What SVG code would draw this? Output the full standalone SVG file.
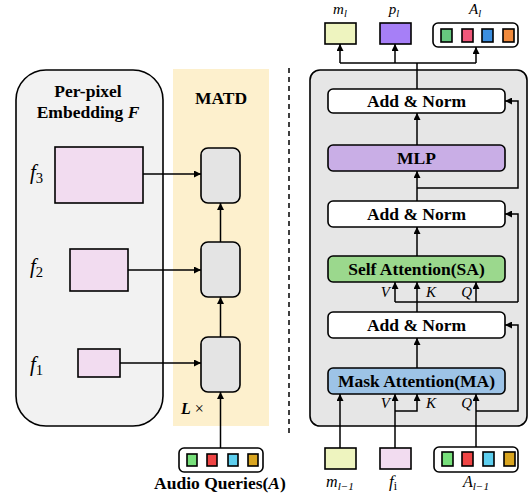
<svg xmlns="http://www.w3.org/2000/svg" width="532" height="500" viewBox="0 0 532 500">
  <style>
    .box { stroke: #000; stroke-width: 1.6; }
    .wire { fill: none; stroke: #000; stroke-width: 1.5; }
    .arrow { fill: none; stroke: #000; stroke-width: 1.5; marker-end: url(#head); }
    .title { font-family: "Liberation Serif", "Times New Roman", serif; font-weight: bold; font-size: 17.5px; text-anchor: middle; fill: #000; }
    .math { font-family: "Liberation Serif", "Times New Roman", serif; font-style: italic; fill: #000; }
    .sub { font-size: 70%; }
    .up { font-style: normal; }
  </style>
  <defs>
    <marker id="head" viewBox="0 0 10 10" refX="10" refY="5" markerWidth="7" markerHeight="7" markerUnits="userSpaceOnUse" orient="auto">
      <path d="M0,0 L10,5 L0,10 z" fill="#000"/>
    </marker>
  </defs>

  <!-- Left: per-pixel embeddings -->
  <g id="embedding">
    <rect class="box" x="16" y="70" width="147" height="356" rx="30" fill="#f2f2f2"/>
    <text class="title" x="88" y="97">Per-pixel</text>
    <text class="title" x="88" y="118">Embedding <tspan font-style="italic">F</tspan></text>
  </g>
  <g id="f3">
    <rect class="box" x="55" y="147" width="88" height="56" fill="#f2dcf0"/>
    <text class="math" x="30" y="179" font-size="21">f<tspan class="sub up" dy="4">3</tspan></text>
  </g>
  <g id="f2">
    <rect class="box" x="70" y="249" width="58" height="42" fill="#f2dcf0"/>
    <text class="math" x="30" y="273" font-size="21">f<tspan class="sub up" dy="4">2</tspan></text>
  </g>
  <g id="f1">
    <rect class="box" x="78" y="349" width="42" height="28" fill="#f2dcf0"/>
    <text class="math" x="30" y="371" font-size="21">f<tspan class="sub up" dy="4">1</tspan></text>
  </g>

  <!-- Middle: MATD stack -->
  <g id="matd">
    <rect x="173" y="69" width="96" height="357" fill="#fdf0cd"/>
    <text class="title" x="221" y="104" font-size="20">MATD</text>
    <text class="math" x="181" y="414" font-size="16"><tspan font-weight="bold">L</tspan><tspan class="up"> ×</tspan></text>
  </g>
  <g id="block3"><rect class="box" x="201" y="148" width="39" height="55" rx="7" fill="#e4e4e4"/></g>
  <g id="block2"><rect class="box" x="201" y="242" width="39" height="55" rx="7" fill="#e4e4e4"/></g>
  <g id="block1"><rect class="box" x="201" y="337" width="39" height="55" rx="7" fill="#e4e4e4"/></g>

  <g id="audio-queries">
    <rect class="box" x="179" y="448" width="84" height="24" rx="5" fill="#fff"/>
    <rect class="box" x="187" y="454" width="10" height="12" fill="#77e07b" stroke-width="1.2"/>
    <rect class="box" x="207" y="454" width="10" height="12" fill="#f04545" stroke-width="1.2"/>
    <rect class="box" x="228" y="454" width="10" height="12" fill="#5ecfef" stroke-width="1.2"/>
    <rect class="box" x="248" y="454" width="10" height="12" fill="#d9a520" stroke-width="1.2"/>
    <text class="title" x="220" y="489" font-size="14.5">Audio Queries(<tspan font-style="italic">A</tspan>)</text>
  </g>

  <!-- Divider -->
  <line x1="289" y1="68" x2="289" y2="433" stroke="#000" stroke-width="1.5" stroke-dasharray="5,4"/>

  <!-- Right: decoder layer -->
  <g id="layer">
    <rect class="box" x="310" y="70" width="217" height="356" rx="10" fill="#e6e6e6"/>
  </g>
  <g id="add-norm-1">
    <rect class="box" x="328" y="89" width="177" height="24" rx="5" fill="#fff"/>
    <text class="title" x="416.5" y="107">Add &amp; Norm</text>
  </g>
  <g id="mlp">
    <rect class="box" x="328" y="145" width="177" height="26" rx="5" fill="#c9aee6"/>
    <text class="title" x="416.5" y="164">MLP</text>
  </g>
  <g id="add-norm-2">
    <rect class="box" x="328" y="201" width="177" height="26" rx="5" fill="#fff"/>
    <text class="title" x="416.5" y="220">Add &amp; Norm</text>
  </g>
  <g id="self-attention">
    <rect class="box" x="328" y="256" width="177" height="26" rx="5" fill="#9bd88d"/>
    <text class="title" x="416.5" y="275">Self Attention(SA)</text>
  </g>
  <g id="add-norm-3">
    <rect class="box" x="328" y="312" width="177" height="26" rx="5" fill="#fff"/>
    <text class="title" x="416.5" y="331">Add &amp; Norm</text>
  </g>
  <g id="mask-attention">
    <rect class="box" x="328" y="368" width="177" height="26" rx="5" fill="#9dc3e6"/>
    <text class="title" x="416.5" y="387">Mask Attention(MA)</text>
  </g>

  <!-- Outputs -->
  <g id="m-l">
    <rect class="box" x="325" y="23" width="31" height="21" fill="#eef4bf"/>
    <text class="math" x="340" y="14" font-size="15" text-anchor="middle">m<tspan class="sub" dy="3">l</tspan></text>
  </g>
  <g id="p-l">
    <rect class="box" x="380" y="23" width="31" height="21" fill="#a67ff7"/>
    <text class="math" x="394" y="14" font-size="15" text-anchor="middle">p<tspan class="sub" dy="3">l</tspan></text>
  </g>
  <g id="A-l">
    <rect class="box" x="433" y="23" width="85" height="24" rx="5" fill="#fff"/>
    <rect class="box" x="441" y="29" width="11" height="13" fill="#66c97f" stroke-width="1.2"/>
    <rect class="box" x="462" y="29" width="11" height="13" fill="#f0587a" stroke-width="1.2"/>
    <rect class="box" x="482" y="29" width="11" height="13" fill="#3c8fe0" stroke-width="1.2"/>
    <rect class="box" x="503" y="29" width="11" height="13" fill="#f08a3c" stroke-width="1.2"/>
    <text class="math" x="475" y="14" font-size="15" text-anchor="middle">A<tspan class="sub" dy="3">l</tspan></text>
  </g>

  <!-- Inputs -->
  <g id="m-prev">
    <rect class="box" x="325" y="448" width="31" height="21" fill="#eef4bf"/>
    <text class="math" x="340" y="487" font-size="16" text-anchor="middle">m<tspan class="sub" dy="3">l−1</tspan></text>
  </g>
  <g id="f-i">
    <rect class="box" x="380" y="448" width="31" height="21" fill="#f2dcf0"/>
    <text class="math" x="393" y="487" font-size="17" text-anchor="middle">f<tspan class="sub up" dy="3">i</tspan></text>
  </g>
  <g id="A-prev">
    <rect class="box" x="434" y="447" width="84" height="25" rx="5" fill="#fff"/>
    <rect class="box" x="442" y="452" width="11" height="14" fill="#77e07b" stroke-width="1.2"/>
    <rect class="box" x="462" y="452" width="11" height="14" fill="#f04545" stroke-width="1.2"/>
    <rect class="box" x="483" y="452" width="11" height="14" fill="#5ecfef" stroke-width="1.2"/>
    <rect class="box" x="504" y="452" width="11" height="14" fill="#d9a520" stroke-width="1.2"/>
    <text class="math" x="476" y="487" font-size="16" text-anchor="middle">A<tspan class="sub" dy="3">l−1</tspan></text>
  </g>

  <!-- Attention input labels -->
  <g id="qkv-labels" class="math" font-size="15">
    <text x="390" y="297" text-anchor="end">V</text>
    <text x="426" y="297">K</text>
    <text x="472" y="297" text-anchor="end">Q</text>
    <text x="390" y="408" text-anchor="end">V</text>
    <text x="426" y="408">K</text>
    <text x="472" y="408" text-anchor="end">Q</text>
  </g>

  <g id="connectors">
    <!-- embeddings into MATD blocks -->
    <line class="arrow" x1="143" y1="174" x2="201" y2="174"/>
    <line class="arrow" x1="128" y1="270" x2="201" y2="270"/>
    <line class="arrow" x1="120" y1="363" x2="201" y2="363"/>
    <!-- block chain -->
    <line class="arrow" x1="220.5" y1="448" x2="220.5" y2="392"/>
    <line class="arrow" x1="220.5" y1="337" x2="220.5" y2="297"/>
    <line class="arrow" x1="220.5" y1="242" x2="220.5" y2="203"/>

    <!-- outputs fan-out -->
    <line class="wire" x1="417" y1="89" x2="417" y2="63"/>
    <line class="wire" x1="340" y1="63" x2="476" y2="63"/>
    <line class="arrow" x1="340" y1="63" x2="340" y2="44"/>
    <line class="arrow" x1="395" y1="63" x2="395" y2="44"/>
    <line class="arrow" x1="476" y1="63" x2="476" y2="47"/>

    <!-- main path -->
    <line class="arrow" x1="417" y1="145" x2="417" y2="113"/>
    <line class="arrow" x1="417" y1="201" x2="417" y2="171"/>
    <line class="arrow" x1="417" y1="256" x2="417" y2="227"/>
    <line class="arrow" x1="417" y1="312" x2="417" y2="282"/>
    <line class="arrow" x1="417" y1="368" x2="417" y2="338"/>

    <!-- residual around MLP -->
    <polyline class="arrow" points="417,188 518,188 518,101 505,101"/>
    <!-- self attention V / Q and residual -->
    <polyline class="wire" points="395,302 518,302"/>
    <line class="arrow" x1="395" y1="302" x2="395" y2="282"/>
    <line class="arrow" x1="476" y1="302" x2="476" y2="282"/>
    <polyline class="arrow" points="518,302 518,214 505,214"/>

    <!-- mask attention inputs -->
    <line class="arrow" x1="340" y1="448" x2="340" y2="394"/>
    <line class="arrow" x1="395" y1="448" x2="395" y2="394"/>
    <polyline class="arrow" points="395,411 417,411 417,394"/>
    <line class="arrow" x1="476" y1="447" x2="476" y2="394"/>
    <polyline class="arrow" points="476,411 518,411 518,325 505,325"/>
  </g>
</svg>
